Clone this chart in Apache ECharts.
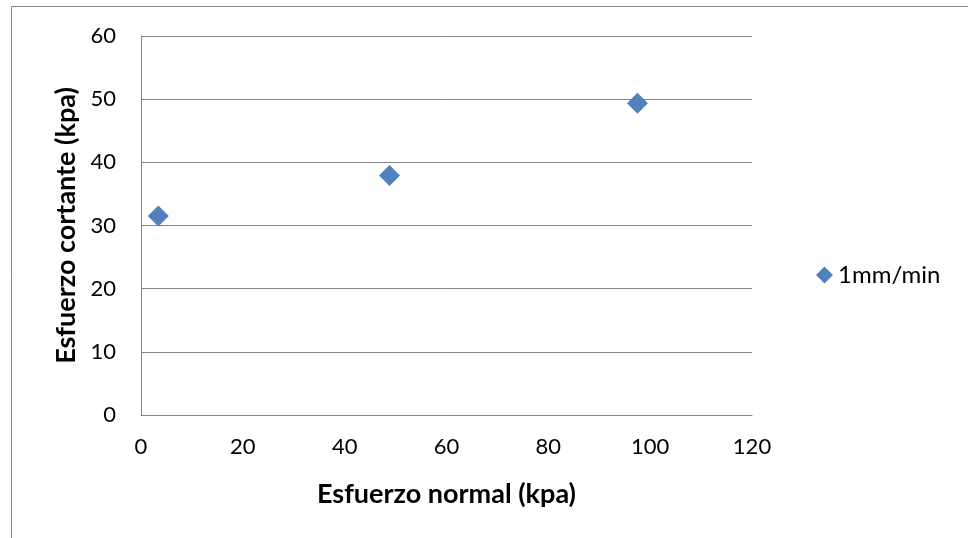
<!DOCTYPE html>
<html>
<head>
<meta charset="utf-8">
<script src="https://cdn.jsdelivr.net/npm/echarts@6/dist/echarts.min.js"></script>
<style>
html,body{margin:0;padding:0;background:#fff;}
#c{width:968px;height:538px;}
</style>
</head>
<body>
<div id="c"></div>
<script>
var seriesName = '1mm/min';
var xValues = [3.4, 48.8, 97.5];
var yValues = [31.5, 37.9, 49.35];
var xTitle = 'Esfuerzo normal (kpa)';
var yTitle = 'Esfuerzo cortante (kpa)';

var points = xValues.map(function (x, i) { return [x, yValues[i]]; });
var FONT = 'Lato, "Liberation Sans", sans-serif';

var chart = echarts.init(document.getElementById('c'), null, {renderer: 'canvas'});
chart.setOption({
  animation: false,
  backgroundColor: '#fff',
  grid: {left: 141, top: 36, width: 611, height: 379, containLabel: false},
  xAxis: {
    type: 'value', min: 0, max: 120, interval: 20,
    name: xTitle, nameLocation: 'middle', nameGap: 66,
    nameTextStyle: {fontFamily: FONT, fontSize: 27, fontWeight: 'bold', color: '#000'},
    axisLine: {show: true, lineStyle: {color: '#868686', width: 1}},
    axisTick: {show: false},
    axisLabel: {fontFamily: FONT, fontSize: 22, color: '#000', margin: 21},
    splitLine: {show: false}
  },
  yAxis: {
    type: 'value', min: 0, max: 60, interval: 10,
    name: yTitle, nameLocation: 'middle', nameGap: 60, nameRotate: 90,
    nameTextStyle: {fontFamily: FONT, fontSize: 27, fontWeight: 'bold', color: '#000'},
    axisLine: {show: true, lineStyle: {color: '#868686', width: 1}},
    axisTick: {show: false},
    axisLabel: {fontFamily: FONT, fontSize: 22, color: '#000', margin: 25},
    splitLine: {show: true, lineStyle: {color: '#868686', width: 1}}
  },
  legend: {
    orient: 'vertical', left: 811, top: 258,
    itemWidth: 17, itemHeight: 17, itemGap: 4,
    textStyle: {fontFamily: FONT, fontSize: 24, color: '#000'},
    data: [{name: seriesName, icon: 'diamond'}]
  },
  graphic: [{
    type: 'polyline',
    shape: {points: [[11.5, 540], [11.5, 6.5], [970, 6.5]]},
    style: {stroke: '#868686', lineWidth: 1, fill: null},
    silent: true
  }],
  series: [{
    name: seriesName,
    type: 'scatter',
    symbol: 'diamond',
    symbolSize: 21,
    itemStyle: {color: '#4F81BD', opacity: 1},
    data: points
  }]
});
</script>
</body>
</html>
